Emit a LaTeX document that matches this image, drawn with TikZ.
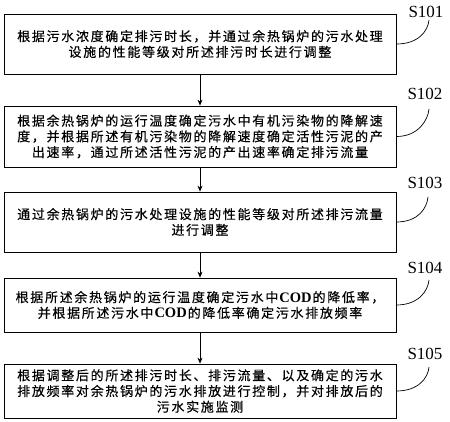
\documentclass[tikz,border=0pt]{standalone}
\usepackage{fontspec}
\setmainfont{Liberation Serif}
\newfontfamily\cjk[LetterSpace=13,FakeBold=0.4]{Noto Sans CJK SC}
\newfontfamily\latb{Liberation Serif}
\usetikzlibrary{arrows.meta}
\begin{document}
\begin{tikzpicture}[x=1pt,y=-1pt,
  stepbox/.style={draw, line width=0.8pt, minimum width=392pt, inner sep=0pt, align=center,
    font=\cjk\fontsize{13}{15.7}\selectfont},
  cod/.style={},
  lab/.style={font=\fontsize{17}{17}\selectfont, inner sep=0pt},
  arr/.style={-{Stealth[length=6pt,width=5pt]}, line width=0.7pt},
  lead/.style={line width=0.7pt}]
\newcommand\codtxt{\hspace{1pt}{\latb\bfseries\fontsize{14.5}{15.7}\selectfont COD}\hspace{1pt}}
\useasboundingbox (0,0) rectangle (450,422);

\node[stepbox, minimum height=60pt] (b1) at (200,44)
  {根据污水浓度确定排污时长，并通过余热锅炉的污水处理\\设施的性能等级对所述排污时长进行调整};
\node[stepbox, minimum height=61pt] (b2) at (200,136.5)
  {根据余热锅炉的运行温度确定污水中有机污染物的降解速\\度，并根据所述有机污染物的降解速度确定活性污泥的产\\出速率，通过所述活性污泥的产出速率确定排污流量};
\node[stepbox, minimum height=60pt] (b3) at (200,222)
  {通过余热锅炉的污水处理设施的性能等级对所述排污流量\\进行调整};
\node[stepbox, minimum height=54pt] (b4) at (200,305)
  {根据所述余热锅炉的运行温度确定污水中\codtxt 的降低率，\\并根据所述污水中\codtxt 的降低率确定污水排放频率};
\node[stepbox, minimum height=54pt] (b5) at (200,391)
  {根据调整后的所述排污时长、排污流量、以及确定的污水\\排放频率对余热锅炉的污水排放进行控制，并对排放后的\\污水实施监测};

\draw[arr] (b1) -- (b2);
\draw[arr] (b2) -- (b3);
\draw[arr] (b3) -- (b4);
\draw[arr] (b4) -- (b5);

\node[lab] (l1) at (426,12) {S101};
\node[lab] (l2) at (425,93.5) {S102};
\node[lab] (l3) at (425,183) {S103};
\node[lab] (l4) at (425,268) {S104};
\node[lab] (l5) at (425,354) {S105};

\coordinate (e1) at (429,20);
\coordinate (e2) at (429,109);
\coordinate (e3) at (428,197);
\coordinate (e4) at (429,280);
\coordinate (e5) at (429,367);

\draw[lead] (b1.east) .. controls +(22,0) and +(-1,11) .. (e1);
\draw[lead] (b2.east) .. controls +(22,0) and +(-1,11) .. (e2);
\draw[lead] (b3.east) .. controls +(22,0) and +(-1,11) .. (e3);
\draw[lead] (b4.east) .. controls +(22,0) and +(-1,11) .. (e4);
\draw[lead] (b5.east) .. controls +(22,0) and +(-1,11) .. (e5);
\end{tikzpicture}
\end{document}
